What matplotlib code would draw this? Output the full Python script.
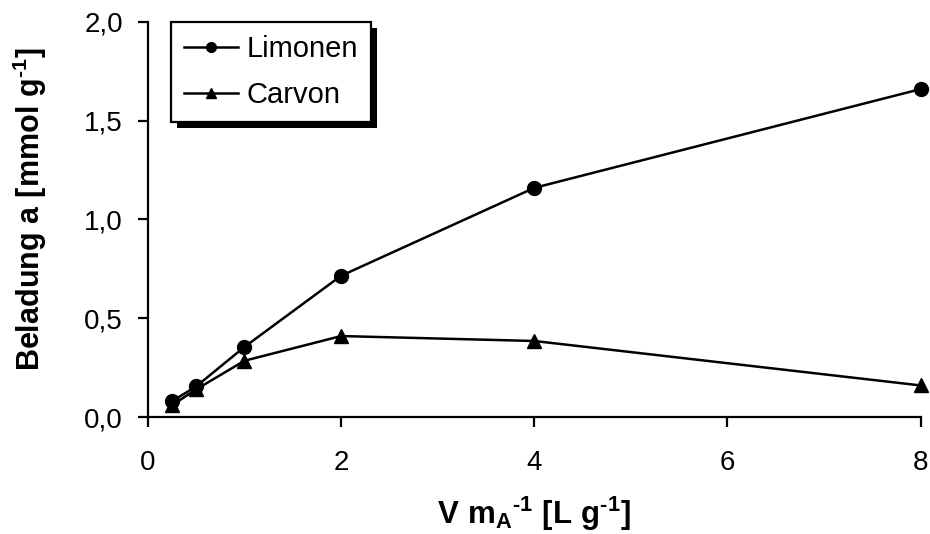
import matplotlib
matplotlib.use("Agg")
import matplotlib.pyplot as plt
from matplotlib.patches import Rectangle

x_vals = [0.25, 0.5, 1, 2, 4, 8]
limonen = [0.08, 0.155, 0.355, 0.715, 1.16, 1.66]
carvon = [0.06, 0.14, 0.285, 0.41, 0.385, 0.16]
x_ticks = [0, 2, 4, 6, 8]
x_ticklabels = ["0", "2", "4", "6", "8"]
y_ticks = [0.0, 0.5, 1.0, 1.5, 2.0]
y_ticklabels = ["0,0", "0,5", "1,0", "1,5", "2,0"]

plt.rcParams['font.family'] = ['Liberation Sans', 'DejaVu Sans']
plt.rcParams['mathtext.fontset'] = 'custom'
plt.rcParams['mathtext.rm'] = 'Liberation Sans:bold'
plt.rcParams['mathtext.bf'] = 'Liberation Sans:bold'
plt.rcParams['mathtext.it'] = 'Liberation Sans:bold'

fig = plt.figure(figsize=(9.3, 5.34), dpi=100)
ax = fig.add_axes([0.159, 0.219, 0.831, 0.740])

ax.plot(x_vals, limonen, color='black', lw=1.8, marker='o', ms=10, label='Limonen', clip_on=False)
ax.plot(x_vals, carvon, color='black', lw=1.8, marker='^', ms=10, label='Carvon', clip_on=False)

ax.set_xlim(0, 8)
ax.set_ylim(0, 2)
ax.set_xticks(x_ticks)
ax.set_xticklabels(x_ticklabels)
ax.set_yticks(y_ticks)
ax.set_yticklabels(y_ticklabels)
for s in ['top', 'right']:
    ax.spines[s].set_visible(False)
for s in ['left', 'bottom']:
    ax.spines[s].set_linewidth(1.6)
ax.tick_params(axis='both', direction='out', length=7, width=1.6, labelsize=20)
ax.tick_params(axis='x', pad=17)
ax.tick_params(axis='y', pad=11)

ax.set_xlabel('$\\mathbf{V\\ m_A{}^{\u20101}\\ [L\\ g^{\u20101}]}$', fontsize=22.5)
ax.set_ylabel('$\\mathbf{Beladung\\ a\\ [mmol\\ g^{\u20101}]}$', fontsize=22)
ax.xaxis.set_label_coords(0.5, -0.197)
ax.yaxis.set_label_coords(-0.128, 0.527)

leg = ax.legend(loc='upper left', bbox_to_anchor=(0.0298, 1.0), borderaxespad=0,
                frameon=True, fancybox=False,
                edgecolor='black', framealpha=1, fontsize=21, handlelength=1.85,
                borderpad=0.45, labelspacing=0.62, handletextpad=0.3, markerscale=0.7)
leg.get_frame().set_linewidth(1.6)

fig.canvas.draw()
bb = leg.get_frame().get_window_extent()
shadow = Rectangle((bb.x0 + 6, bb.y0 - 6), bb.width, bb.height, transform=None,
                   facecolor='black', edgecolor='none', zorder=4.9, clip_on=False)
ax.add_artist(shadow)

fig.savefig('out.png', dpi=100)
